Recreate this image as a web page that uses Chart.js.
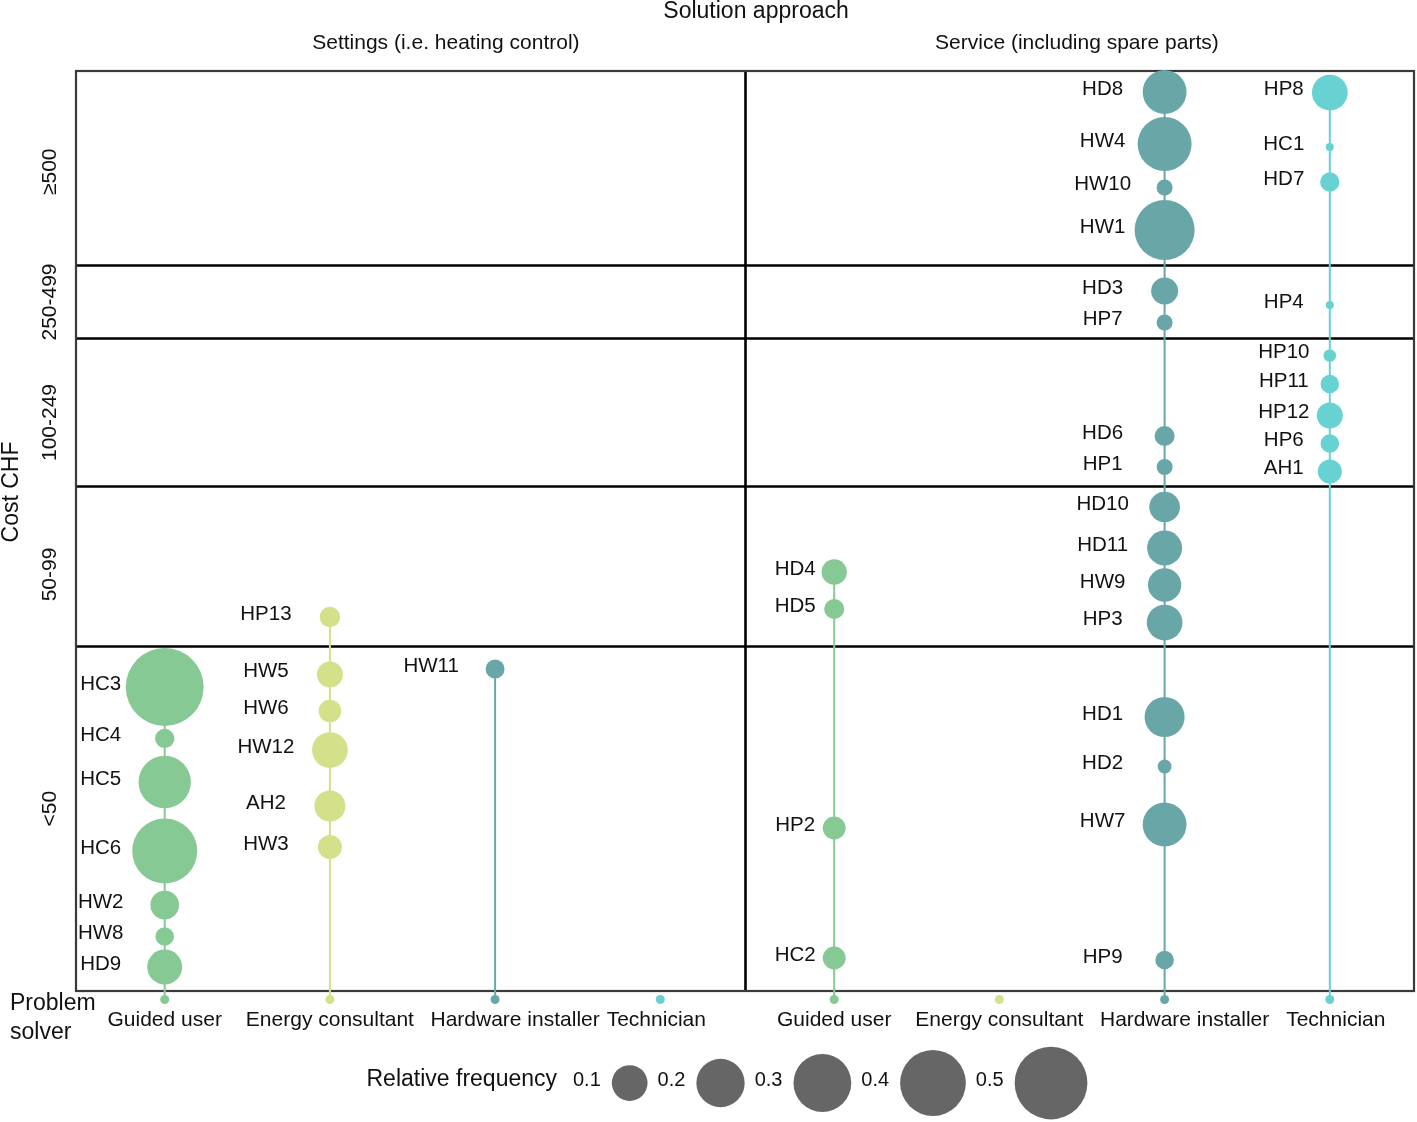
<!DOCTYPE html>
<html>
<head>
<meta charset="utf-8">
<title>Solution approach vs cost</title>
<script src="https://cdn.jsdelivr.net/npm/chart.js@4/dist/chart.umd.min.js"></script>
<style>
  body { margin: 0; background: #fff; }
  canvas { display: block; }
</style>
</head>
<body>
<canvas id="chart" width="1417" height="1122"></canvas>
<script>
// --- data ---
const approaches = ['Settings (i.e. heating control)', 'Service (including spare parts)'];
const solvers = ['Guided user', 'Energy consultant', 'Hardware installer', 'Technician'];
const costBands = ['<50', '50-99', '100-249', '250-499', '\u2265500'];
// band limits on the vertical position scale, bottom to top
const bandEdges = [0, 34.45, 50.45, 65.25, 72.55, 92.1];

const cases = [
    'HC3', 'HC4', 'HC5', 'HC6', 'HW2', 'HW8', 'HD9',
    'HP13', 'HW5', 'HW6', 'HW12', 'AH2', 'HW3',
    'HW11',
    'HD4', 'HD5', 'HP2', 'HC2',
    'HD8', 'HW4', 'HW10', 'HW1', 'HD3', 'HP7', 'HD6', 'HP1', 'HD10', 'HD11', 'HW9', 'HP3', 'HD1', 'HD2', 'HW7', 'HP9',
    'HP8', 'HC1', 'HD7', 'HP4', 'HP10', 'HP11', 'HP12', 'HP6', 'AH1'
];
const caseApproach = [
    0, 0, 0, 0, 0, 0, 0,
    0, 0, 0, 0, 0, 0,
    0,
    1, 1, 1, 1,
    1, 1, 1, 1, 1, 1, 1, 1, 1, 1, 1, 1, 1, 1, 1, 1,
    1, 1, 1, 1, 1, 1, 1, 1, 1
];
const caseSolver = [
    0, 0, 0, 0, 0, 0, 0,
    1, 1, 1, 1, 1, 1,
    2,
    0, 0, 0, 0,
    2, 2, 2, 2, 2, 2, 2, 2, 2, 2, 2, 2, 2, 2, 2, 2,
    3, 3, 3, 3, 3, 3, 3, 3, 3
];
// vertical position inside the cost bands
const casePos = [
    30.4, 25.25, 20.9, 14.0, 8.6, 5.45, 2.4,
    37.4, 31.65, 28.0, 24.1, 18.5, 14.4,
    32.2,
    41.9, 38.2, 16.3, 3.3,
    89.9, 84.7, 80.35, 76.1, 70.0, 66.85, 55.5, 52.4, 48.4, 44.3, 40.6, 36.85, 27.4, 22.45, 16.65, 3.1,
    89.85, 84.4, 80.9, 68.6, 63.55, 60.7, 57.55, 54.75, 51.95
];
// relative frequency
const caseFreq = [
    0.58, 0.025, 0.24, 0.39, 0.06, 0.023, 0.095,
    0.028, 0.048, 0.035, 0.10, 0.072, 0.04,
    0.024,
    0.045, 0.027, 0.036, 0.036,
    0.16, 0.257, 0.0175, 0.326, 0.052, 0.0175, 0.027, 0.0175, 0.07, 0.095, 0.085, 0.10, 0.13, 0.014, 0.16, 0.023,
    0.10, 0.01, 0.025, 0.01, 0.0125, 0.023, 0.048, 0.023, 0.04
];
const legendFreq = [0.1, 0.2, 0.3, 0.4, 0.5];

// --- styling / layout ---
const FONT = "'Liberation Sans', Arial, Helvetica, sans-serif";
const solverColors = ['#86C994', '#D4E08A', '#69A6A8', '#68D2D2'];
const DOT_POS = -0.85;            // row of small dots under the frame
const labelShift = [[-64, -64, -64, -64], [-39, -46, -62, -46]];
const tickShift = [[0, 0, 20, -4], [0, 0, 20, 6]];
const bandLabelShift = [-10, 8, 10, 0, 4];
const approachTitleX = [2.21, 5.98];

// ggplot-like area scale for the bubbles
const sizeFor = f => 4 + 46.25 * Math.sqrt(Math.max(0, f - 0.01));
const colX = (a, s) => a * 4 + 0.53 + s * 0.987;

const datasets = [];

solvers.forEach((name, s) => {
    const pts = [];
    cases.forEach((c, i) => {
        if (caseSolver[i] !== s) return;
        pts.push({ x: colX(caseApproach[i], s), y: casePos[i], r: sizeFor(caseFreq[i]), name: c });
    });
    datasets.push({
        type: 'bubble',
        label: name,
        data: pts,
        backgroundColor: solverColors[s],
        borderWidth: 0,
        order: 0,
        clip: false
    });
});

// stems from the top case down to the dot under each column
approaches.forEach((ap, a) => {
    solvers.forEach((name, s) => {
        const ys = casePos.filter((p, i) => caseApproach[i] === a && caseSolver[i] === s);
        const data = [];
        if (ys.length) data.push({ x: colX(a, s), y: Math.max(...ys) });
        data.push({ x: colX(a, s), y: DOT_POS });
        datasets.push({
            type: 'line',
            data: data,
            borderColor: solverColors[s],
            borderWidth: 2,
            pointRadius: data.map((d, i) => i === data.length - 1 ? 4.5 : 0),
            pointBackgroundColor: solverColors[s],
            pointBorderWidth: 0,
            order: 1,
            clip: false
        });
    });
});

const framePlugin = {
    id: 'frame',
    beforeDatasetsDraw(chart) {
        const { ctx, scales: { x, y } } = chart;
        const left = x.getPixelForValue(0), right = x.getPixelForValue(8) - 1;
        const top = y.getPixelForValue(bandEdges[bandEdges.length - 1]) + 1;
        const bottom = y.getPixelForValue(0);
        ctx.save();
        // band separators
        ctx.strokeStyle = '#000';
        ctx.lineWidth = 2.6;
        bandEdges.slice(1, -1).forEach(v => {
            const py = y.getPixelForValue(v);
            ctx.beginPath();
            ctx.moveTo(left, py);
            ctx.lineTo(right, py);
            ctx.stroke();
        });
        // divider between the two approaches
        const dx = x.getPixelForValue(4);
        ctx.beginPath();
        ctx.moveTo(dx, top);
        ctx.lineTo(dx, bottom);
        ctx.stroke();
        // outer frame
        ctx.strokeStyle = '#3a3a3a';
        ctx.lineWidth = 2.2;
        ctx.strokeRect(left, top, right - left, bottom - top);
        ctx.restore();
    }
};

const textPlugin = {
    id: 'texts',
    afterDatasetsDraw(chart) {
        const { ctx, scales: { x, y } } = chart;
        ctx.save();
        ctx.fillStyle = '#111';
        ctx.textBaseline = 'middle';
        ctx.textAlign = 'center';

        // case labels
        ctx.font = '20.5px ' + FONT;
        cases.forEach((c, i) => {
            const a = caseApproach[i], s = caseSolver[i];
            const px = x.getPixelForValue(colX(a, s)) + labelShift[a][s];
            const py = y.getPixelForValue(casePos[i]) - 3;
            ctx.fillText(c, px, py);
        });

        // titles
        ctx.font = '23px ' + FONT;
        ctx.fillText('Solution approach', x.getPixelForValue(4.063), 12);
        ctx.font = '21px ' + FONT;
        approaches.forEach((ap, a) => ctx.fillText(ap, x.getPixelForValue(approachTitleX[a]), 43));

        // problem solver labels
        approaches.forEach((ap, a) => {
            solvers.forEach((name, s) => {
                ctx.fillText(name, x.getPixelForValue(colX(a, s)) + tickShift[a][s], 1020);
            });
        });

        // cost band labels (rotated)
        costBands.forEach((b, k) => {
            const py = (y.getPixelForValue(bandEdges[k]) + y.getPixelForValue(bandEdges[k + 1])) / 2 + bandLabelShift[k];
            ctx.save();
            ctx.translate(50, py);
            ctx.rotate(-Math.PI / 2);
            ctx.fillText(b, 0, 0);
            ctx.restore();
        });

        // axis titles
        ctx.font = '23px ' + FONT;
        ctx.save();
        ctx.translate(12, 492);
        ctx.rotate(-Math.PI / 2);
        ctx.fillText('Cost CHF', 0, 0);
        ctx.restore();
        ctx.textAlign = 'left';
        ctx.fillText('Problem', 10, 1004);
        ctx.fillText('solver', 10, 1033);

        // size legend
        ctx.textAlign = 'right';
        ctx.fillText('Relative frequency', 557, 1080);
        ctx.textAlign = 'left';
        ctx.font = '20px ' + FONT;
        let lx = 573;
        legendFreq.forEach(f => {
            const txt = f.toFixed(1);
            ctx.fillStyle = '#111';
            ctx.fillText(txt, lx, 1080);
            lx += ctx.measureText(txt).width + 11;
            const r = sizeFor(f);
            ctx.fillStyle = '#666666';
            ctx.beginPath();
            ctx.arc(lx + r, 1083, r, 0, Math.PI * 2);
            ctx.fill();
            lx += 2 * r + 10;
        });
        ctx.restore();
    }
};

new Chart(document.getElementById('chart'), {
    data: { datasets: datasets },
    options: {
        responsive: false,
        animation: false,
        events: [],
        layout: {
            autoPadding: false,
            padding: { left: 76, top: 70, right: 2, bottom: 116 }
        },
        scales: {
            x: { type: 'linear', min: 0, max: 8, display: false },
            y: { type: 'linear', min: -1.5, max: 92.1, display: false }
        },
        plugins: {
            legend: { display: false },
            tooltip: { enabled: false }
        }
    },
    plugins: [framePlugin, textPlugin]
});
</script>
</body>
</html>
